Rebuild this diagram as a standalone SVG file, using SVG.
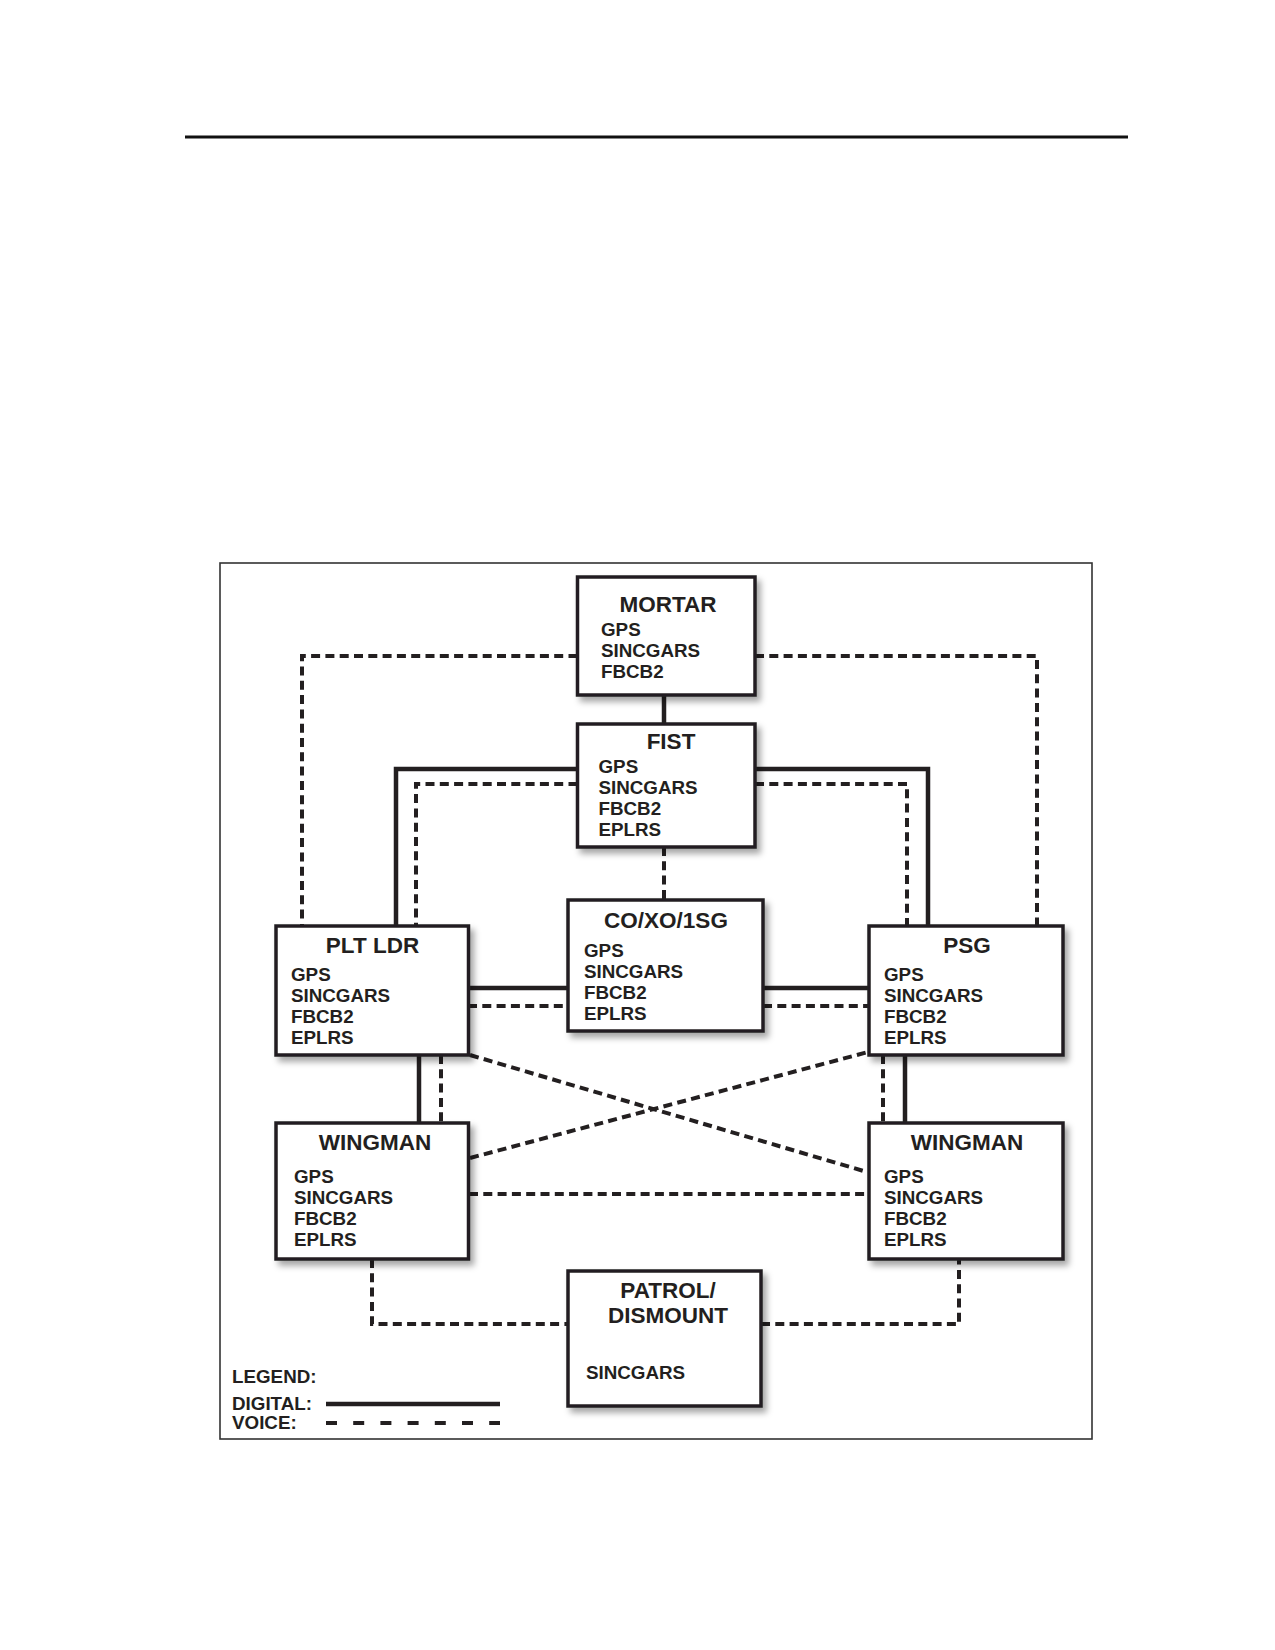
<svg xmlns="http://www.w3.org/2000/svg" width="1275" height="1650" viewBox="0 0 1275 1650">
<defs>
<filter id="sh" x="-10%" y="-10%" width="130%" height="130%">
<feDropShadow dx="4" dy="5" stdDeviation="3" flood-color="#000" flood-opacity="0.35"/>
</filter>
</defs>
<style>
.box{fill:#fff;stroke:#231f20;stroke-width:3.5;filter:url(#sh)}
.t{font-family:"Liberation Sans",Arial,sans-serif;font-weight:bold;font-size:22.5px;fill:#231f20;text-anchor:middle}
.i{font-family:"Liberation Sans",Arial,sans-serif;font-weight:bold;font-size:18.8px;fill:#231f20}
.s{fill:none;stroke:#231f20;stroke-width:4.5;stroke-linejoin:miter}
.d{fill:none;stroke:#231f20;stroke-width:4;stroke-dasharray:9 5.3;stroke-linejoin:miter}
</style>
<rect width="1275" height="1650" fill="#fff"/>
<line x1="185" y1="137" x2="1128" y2="137" stroke="#111" stroke-width="3"/>
<rect x="220" y="563" width="872" height="876" fill="none" stroke="#333" stroke-width="1.6"/>
<g id="connectors">
<line class="s" x1="664" y1="695" x2="664" y2="724"/>
<polyline class="s" points="577.5,769 396,769 396,926"/>
<polyline class="s" points="755,769 928,769 928,926"/>
<polyline class="d" points="577.5,784 416,784 416,926"/>
<polyline class="d" points="755,784 907,784 907,926"/>
<polyline class="d" points="577.5,656 302,656 302,926"/>
<polyline class="d" points="755,656 1037,656 1037,926"/>
<line class="d" x1="664" y1="847" x2="664" y2="900"/>
<line class="s" x1="468" y1="988" x2="568" y2="988"/>
<line class="d" x1="468" y1="1006" x2="568" y2="1006"/>
<line class="s" x1="763" y1="988" x2="869" y2="988"/>
<line class="d" x1="763" y1="1006" x2="869" y2="1006"/>
<line class="s" x1="419" y1="1055" x2="419" y2="1123"/>
<line class="d" x1="441" y1="1055" x2="441" y2="1123"/>
<line class="d" x1="883" y1="1055" x2="883" y2="1123"/>
<line class="s" x1="905" y1="1055" x2="905" y2="1123"/>
<line class="d" x1="470" y1="1055" x2="867" y2="1172"/>
<line class="d" x1="470" y1="1158" x2="868" y2="1052"/>
<line class="d" x1="469" y1="1194" x2="869" y2="1194"/>
<polyline class="d" points="372,1259 372,1324 568,1324"/>
<polyline class="d" points="761,1324 959,1324 959,1259"/>
</g>
<g id="mortar">
<rect class="box" x="577.5" y="577" width="177.5" height="118"/>
<text class="t" x="668" y="612">MORTAR</text>
<text class="i" x="601" y="636">GPS</text>
<text class="i" x="601" y="657">SINCGARS</text>
<text class="i" x="601" y="678">FBCB2</text>
</g>
<g id="fist">
<rect class="box" x="577.5" y="724" width="177.5" height="123"/>
<text class="t" x="671" y="749">FIST</text>
<text class="i" x="598.5" y="773">GPS</text>
<text class="i" x="598.5" y="794">SINCGARS</text>
<text class="i" x="598.5" y="815">FBCB2</text>
<text class="i" x="598.5" y="836">EPLRS</text>
</g>
<g id="co">
<rect class="box" x="568" y="900" width="195" height="131"/>
<text class="t" x="666" y="928">CO/XO/1SG</text>
<text class="i" x="584" y="957">GPS</text>
<text class="i" x="584" y="978">SINCGARS</text>
<text class="i" x="584" y="999">FBCB2</text>
<text class="i" x="584" y="1020">EPLRS</text>
</g>
<g id="pltldr">
<rect class="box" x="276" y="926" width="192.5" height="129"/>
<text class="t" x="372.5" y="953">PLT LDR</text>
<text class="i" x="291" y="981">GPS</text>
<text class="i" x="291" y="1002">SINCGARS</text>
<text class="i" x="291" y="1023">FBCB2</text>
<text class="i" x="291" y="1044">EPLRS</text>
</g>
<g id="psg">
<rect class="box" x="869" y="926" width="194" height="129"/>
<text class="t" x="967" y="953">PSG</text>
<text class="i" x="884" y="981">GPS</text>
<text class="i" x="884" y="1002">SINCGARS</text>
<text class="i" x="884" y="1023">FBCB2</text>
<text class="i" x="884" y="1044">EPLRS</text>
</g>
<g id="wingman-left">
<rect class="box" x="276" y="1123" width="192.5" height="136"/>
<text class="t" x="375" y="1150">WINGMAN</text>
<text class="i" x="294" y="1183">GPS</text>
<text class="i" x="294" y="1204">SINCGARS</text>
<text class="i" x="294" y="1225">FBCB2</text>
<text class="i" x="294" y="1246">EPLRS</text>
</g>
<g id="wingman-right">
<rect class="box" x="869" y="1123" width="194" height="136"/>
<text class="t" x="967" y="1150">WINGMAN</text>
<text class="i" x="884" y="1183">GPS</text>
<text class="i" x="884" y="1204">SINCGARS</text>
<text class="i" x="884" y="1225">FBCB2</text>
<text class="i" x="884" y="1246">EPLRS</text>
</g>
<g id="patrol">
<rect class="box" x="568" y="1271" width="193" height="135"/>
<text class="t" x="668" y="1298">PATROL/</text>
<text class="t" x="668" y="1323">DISMOUNT</text>
<text class="i" x="586" y="1379">SINCGARS</text>
</g>
<g id="legend">
<text class="i" x="232" y="1383">LEGEND:</text>
<text class="i" x="232" y="1410">DIGITAL:</text>
<text class="i" x="232" y="1429">VOICE:</text>
<line x1="326" y1="1404" x2="500" y2="1404" stroke="#231f20" stroke-width="4.5"/>
<line x1="326" y1="1423" x2="500" y2="1423" stroke="#231f20" stroke-width="4" stroke-dasharray="11 16.2"/>
</g>
</svg>
